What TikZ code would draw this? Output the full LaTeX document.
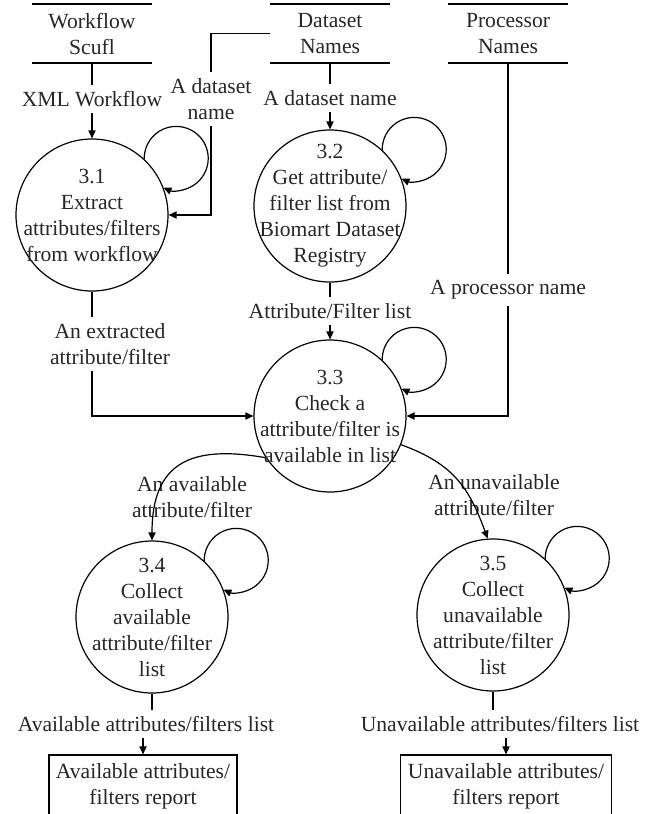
\documentclass[tikz,border=0pt]{standalone}
\usepackage{fontspec}
\setmainfont{Liberation Serif}
\usetikzlibrary{arrows.meta}

\tikzset{
	flow/.style={-{Triangle[length=4pt,width=3.6pt]}},
	store/.style={minimum width=60pt, minimum height=29.5pt, align=center, outer sep=0pt},
	proc/.style={circle, draw, minimum size=76pt, inner sep=0pt},
	proctext/.style={align=center},
	flowlabel/.style={align=center, inner sep=3pt},
	report/.style={draw, minimum height=31pt, align=center}
}

\begin{document}
\begin{tikzpicture}[x=0.5pt, y=0.5pt, line width=0.6pt, font=\fontsize{10.8}{13}\selectfont, text=black!85]
			\useasboundingbox (0,0) rectangle (649,-814);
			\clip (0,0) rectangle (649,-814);
			% data stores
			\node[store] (ws) at (92,-33.5) {Workflow\\Scufl};
			\node[store] (ds) at (330,-33.5) {Dataset\\Names};
			\node[store] (ps) at (508,-33.5) {Processor\\Names};
			\foreach \s in {ws,ds,ps}
				\draw (\s.north west) -- (\s.north east) (\s.south west) -- (\s.south east); % open ends
			% processes
			\node[proc, label={[proctext]center:{3.1\\Extract\\attributes/filters\\from workflow}}] (p31) at (92,-215) {};
			\node[proc, label={[proctext]center:{3.2\\Get attribute/\\filter list from\\Biomart Dataset\\Registry}}] (p32) at (330,-206) {};
			\node[proc, label={[proctext]center:{3.3\\Check a\\attribute/filter is\\available in list}}] (p33) at (330,-416) {};
			\node[proc, label={[proctext]center:{3.4\\Collect\\available\\attribute/filter\\list}}] (p34) at (152,-617) {};
			\node[proc, label={[proctext]center:{3.5\\Collect\\unavailable\\attribute/filter\\list}}] (p35) at (493,-615) {};
			\foreach \p in {p31,p32,p33,p34,p35}
				\draw[flow] (\p.47) arc[start angle=181, end angle=-113.5, radius=16pt]; % self loop
			% reports
			\node[report, minimum width=94pt] (out34) at (143,-786) {Available attributes/\\filters report};
			\node[report, minimum width=105.5pt] (out35) at (506,-786) {Unavailable attributes/\\filters report};
			% labels
			\node[flowlabel] (xml) at (92,-99) {XML Workflow};
			\node[flowlabel] (dsn1) at (211,-99) {A dataset\\name};
			\node[flowlabel] (dsn2) at (330,-98) {A dataset name};
			\node[flowlabel] (afl) at (330,-311) {Attribute/Filter list};
			\node[flowlabel] (prc) at (508,-290) {A processor name};
			\node[flowlabel] (ext) at (110,-344) {An extracted\\attribute/filter};
			\node[flowlabel] (avl) at (192,-497) {An available\\attribute/filter};
			\node[flowlabel] (unv) at (494,-495) {An unavailable\\attribute/filter};
			\node[flowlabel] (avlist) at (146,-724) {Available attributes/filters list};
			\node[flowlabel] (unvlist) at (500,-724) {Unavailable attributes/filters list};
			% flows
			\draw (ws.south) -- (xml.north);
			\draw[flow] (xml.south) -- (p31.north);
			\draw (ds.west) -| (dsn1.north);
			\draw[flow] (dsn1.south) |- (p31.east);
			\draw (ds.south) -- (dsn2.north);
			\draw[flow] (dsn2.south) -- (p32.north);
			\draw (p32.south) -- (afl.north);
			\draw[flow] (afl.south) -- (p33.north);
			\draw (ps.south) -- (prc.north);
			\draw[flow] (prc.south) |- (p33.east);
			\draw (p31.south) -- (p31.south |- ext.north);
			\draw[flow] (p31.south |- ext.south) |- (p33.west);
			\draw[flow] (p33.213) to[out=170, in=90, looseness=1.4] (p34.north); % available
			\draw[flow] (p33.-22) to[out=-20, in=110, looseness=1.1] (p35.94); % unavailable
			\draw (p34.south) -- (p34.south |- avlist.north);
			\draw[flow] (avlist.south -| out34.north) -- (out34.north);
			\draw (p35.south) -- (p35.south |- unvlist.north);
			\draw[flow] (unvlist.south -| out35.north) -- (out35.north);
\end{tikzpicture}
\end{document}
